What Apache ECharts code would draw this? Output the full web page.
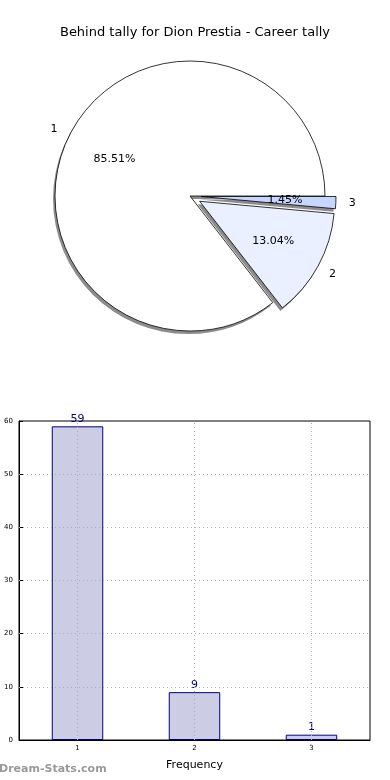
<!DOCTYPE html>
<html><head><meta charset="utf-8">
<script src="https://cdn.jsdelivr.net/npm/echarts@6/dist/echarts.min.js"></script>
<style>html,body{margin:0;padding:0;background:#fff}#c{width:390px;height:780px}</style>
</head><body><div id="c"></div>
<script>
const titleText = 'Behind tally for Dion Prestia - Career tally';
const pieNames = ['1', '2', '3'];
const pieValues = [59, 9, 1];
const pieColors = ['#ffffff', '#eaf0ff', '#c6d7ff'];
const pieExploded = [false, true, true];
const barCategories = ['1', '2', '3'];
const barValues = [59, 9, 1];
const yTicks = [0, 10, 20, 30, 40, 50, 60];

const FONT = 'DejaVu Sans';
const R = 135, CX = 190, CY = 196, OFF = 11;

function pieData(color) {
  return pieNames.map((n, i) => ({
    name: n, value: pieValues[i], selected: pieExploded[i],
    itemStyle: { color: color || pieColors[i] }
  }));
}
const basePie = {
  type: 'pie', center: [CX, CY], startAngle: 0, clockwise: false,
  selectedMode: 'multiple', selectedOffset: OFF, animation: false,
  emphasis: { disabled: true }, labelLine: { show: false }
};

const option = {
  animation: false,
  textStyle: { fontFamily: FONT },
  title: { text: titleText, left: 'center', top: 21, textStyle: { fontFamily: FONT, fontSize: 13, fontWeight: 'normal', color: '#000' } },
  graphic: [{ type: 'text', left: -1, top: 764, style: { text: 'Dream-Stats.com', fontFamily: FONT, fontSize: 11, fontWeight: 'bold', fill: '#999' } }],
  grid: { left: 19, right: 20, top: 421, bottom: 40, show: true, borderColor: '#000', borderWidth: 1 },
  xAxis: {
    type: 'category', data: barCategories,
    name: 'Frequency', nameLocation: 'middle', nameGap: 20,
    nameTextStyle: { fontFamily: FONT, fontSize: 11, color: '#000' },
    axisLine: { lineStyle: { color: '#000' } },
    axisTick: { show: false },
    axisLabel: { fontSize: 7, color: '#000', margin: 5 },
    splitLine: { show: false }
  },
  yAxis: {
    type: 'value', min: 0, max: 60, interval: 10,
    axisLine: { show: true, lineStyle: { color: '#000' } },
    axisTick: { show: true, inside: true, length: 4, lineStyle: { color: '#000' } },
    axisLabel: { fontSize: 7, color: '#000', margin: 6 },
    splitLine: { show: false }
  },
  series: [
    Object.assign({}, basePie, {
      center: [CX - 2, CY + 3], radius: [0, R], data: pieData('#8c8c8c'), silent: true, z: 1,
      itemStyle: { borderWidth: 0 }, select: { itemStyle: { borderWidth: 0 } },
      label: { show: false }
    }),
    Object.assign({}, basePie, {
      radius: [0, R], data: pieData(), z: 2,
      itemStyle: { borderColor: '#000', borderWidth: 0.8 },
      select: { itemStyle: { borderColor: '#000', borderWidth: 0.8 } },
      label: { show: false }
    }),
    Object.assign({}, basePie, {
      radius: [0, R * 1.2], data: pieData('rgba(0,0,0,0)'), silent: true, z: 3,
      itemStyle: { borderWidth: 0 }, select: { itemStyle: { borderWidth: 0 } },
      label: { show: true, position: 'inside', formatter: '{d}%', fontFamily: FONT, fontSize: 11, color: '#000' }
    }),
    Object.assign({}, basePie, {
      radius: [0, R * 2.2], data: pieData('rgba(0,0,0,0)'), silent: true, z: 3,
      itemStyle: { borderWidth: 0 }, select: { itemStyle: { borderWidth: 0 } },
      label: { show: true, position: 'inside', formatter: '{b}', fontFamily: FONT, fontSize: 11, color: '#000' }
    }),
    {
      type: 'bar', data: barValues, barWidth: '44%',
      itemStyle: { color: '#cccce4', borderColor: '#000080', borderWidth: 1 },
      label: { show: true, position: 'top', distance: 2, color: '#000080', fontFamily: FONT, fontSize: 11 },
      emphasis: { disabled: true },
      markLine: {
        silent: true, symbol: 'none', label: { show: false },
        lineStyle: { color: '#b0b0b0', type: [1, 3], width: 1 },
        data: barCategories.map(c => ({ xAxis: c })).concat(yTicks.slice(1, -1).map(v => ({ yAxis: v })))
      }
    }
  ]
};
const chart = echarts.init(document.getElementById('c'), null, { renderer: 'canvas' });
chart.setOption(option);
</script></body></html>
